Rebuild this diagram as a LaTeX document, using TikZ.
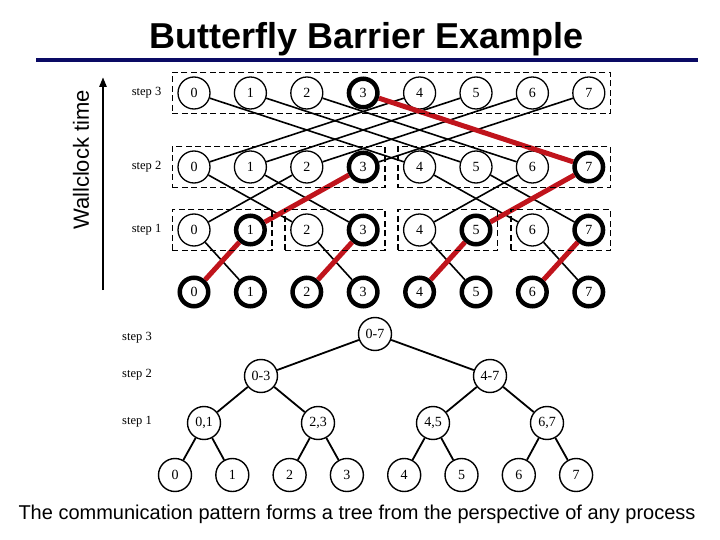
\documentclass[tikz,border=0pt]{standalone}
\usepackage{fontspec}
\setmainfont{Liberation Serif}
\newfontfamily\slidefont{Liberation Sans}
\usepackage{tikz}
\usetikzlibrary{arrows.meta,positioning,fit}
\definecolor{BBNavy}{HTML}{0A0A64}
\definecolor{BBRed}{HTML}{C0141C}

\begin{document}
\begin{tikzpicture}[x=1pt, y=-1pt,
  proc/.style={circle, draw, fill=white, line width=1.3pt, minimum size=32pt,
    inner sep=0pt, font=\fontsize{14}{16}\selectfont},
  done/.style={proc, line width=4.5pt, minimum size=28.5pt},
  grp/.style={draw, line width=1.6pt, dash pattern=on 6pt off 3.5pt,
    inner xsep=5pt, inner ysep=4pt},
  msg/.style={line width=1.6pt},
  hot/.style={line width=5pt, BBRed},
  steplbl/.style={font=\fontsize{12.5}{14}\selectfont, inner sep=1pt},
  tnode/.style={circle, draw, fill=white, line width=1.4pt, minimum size=33pt,
    inner sep=0pt, font=\fontsize{14}{16}\selectfont},
  tedge/.style={line width=1.8pt}]
\useasboundingbox (0,0) rectangle (720,540);

% title and rule
\node[font=\slidefont\bfseries\fontsize{36}{40}\selectfont] (title) at (367,39) {Butterfly Barrier Example};
\draw[BBNavy, line width=4.5pt] (36,60) -- (698,60);

% time axis
\coordinate (tbot) at (103,290);
\coordinate (ttop) at (103,77);
\draw[line width=2.6pt, -{Triangle[length=10pt,width=7pt]}] (tbot) -- (ttop);
\node[rotate=90, font=\slidefont\fontsize{22}{24}\selectfont] (wall) at (81,160) {Wallclock time};

% processes, one row per step
\foreach \i in {0,...,7}
  \node[done] (p0-\i) at ({194+56.4*\i},292) {\i};
\foreach \i in {0,2,4,6}
  \node[proc] (p1-\i) at ({194+56.4*\i},230) {\i};
\foreach \i in {1,3,5,7}
  \node[done] (p1-\i) at ({194+56.4*\i},230) {\i};
\foreach \i in {0,1,2,4,5,6}
  \node[proc] (p2-\i) at ({194+56.4*\i},167) {\i};
\foreach \i in {3,7}
  \node[done] (p2-\i) at ({194+56.4*\i},167) {\i};
\foreach \i in {0,1,2,4,5,6,7}
  \node[proc] (p3-\i) at ({194+56.4*\i},93) {\i};
\node[done] (p3-3) at ({194+56.4*3},93) {3};

% messages
\foreach \a/\b in {1/0,3/2,5/4,7/6}
  \draw[msg] (p0-\a) -- (p1-\b);
\foreach \a/\b in {0/2,2/0,3/1,4/6,6/4,7/5}
  \draw[msg] (p1-\a) -- (p2-\b);
\foreach \a/\b in {0/4,1/5,2/6,3/7,4/0,5/1,6/2}
  \draw[msg] (p2-\a) -- (p3-\b);
\foreach \a/\b in {0/1,2/3,4/5,6/7}
  \draw[hot] (p0-\a) -- (p1-\b);
\draw[hot] (p1-1) -- (p2-3);
\draw[hot] (p1-5) -- (p2-7);
\draw[hot] (p2-7) -- (p3-3);

% groups
\node[grp, fit=(p3-0)(p3-7)] (g3) {};
\node[grp, fit=(p2-0)(p2-3)] (g2) {};
\node[grp, fit=(p2-4)(p2-7)] (g2b) {};
\node[grp, fit=(p1-0)(p1-1)] (g1) {};
\foreach \a/\b in {2/3,4/5,6/7}
  \node[grp, fit=(p1-\a)(p1-\b)] (g1-\a) {};

\node[steplbl, left=9pt of g3] (s3) {step 3};
\node[steplbl, left=9pt of g2] (s2) {step 2};
\node[steplbl, left=9pt of g1] (s1) {step 1};

% the same pattern seen as a tree
\node[tnode] (t07) at (375,334) {0-7};
\node[tnode] (t03) at (261,376) {0-3};
\node[tnode] (t47) at (490,376) {4-7};
\node[tnode] (t01) at (204,423) {0,1};
\node[tnode] (t23) at (318,423) {2,3};
\node[tnode] (t45) at (433,423) {4,5};
\node[tnode] (t67) at (547,423) {6,7};
\foreach \i in {0,...,7}
  \node[tnode] (q\i) at ({175+57.3*\i},475) {\i};

\draw[tedge] (t07) -- (t03);
\draw[tedge] (t07) -- (t47);
\foreach \a/\b in {03/01,03/23,47/45,47/67}
  \draw[tedge] (t\a) -- (t\b);
\foreach \a/\b in {01/0,01/1,23/2,23/3,45/4,45/5,67/6,67/7}
  \draw[tedge] (t\a) -- (q\b);

\node[steplbl] (ts3) at (137,338) {step 3};
\node[steplbl] (ts2) at (137,375) {step 2};
\node[steplbl] (ts1) at (137,422) {step 1};

\node[font=\slidefont\fontsize{20}{24}\selectfont] (caption) at (357,514)
  {The communication pattern forms a tree from the perspective of any process};
\end{tikzpicture}
\end{document}
